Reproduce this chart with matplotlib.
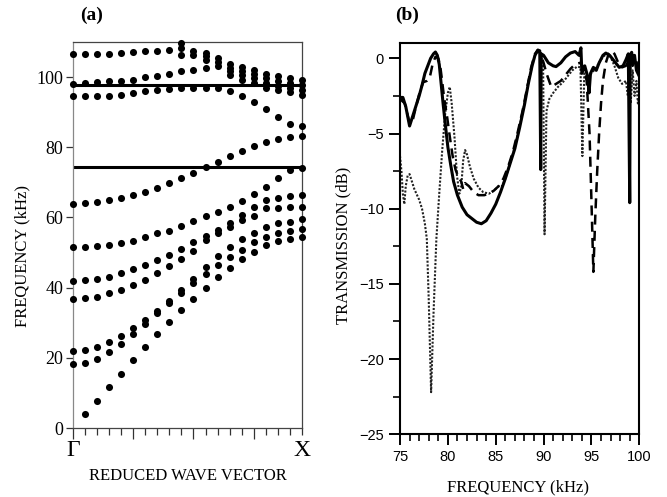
import numpy as np
import matplotlib
matplotlib.use('Agg')
import matplotlib.pyplot as plt
from matplotlib.ticker import MultipleLocator

nan = np.nan

# ---- panel (a): band structure, 20 k-points from Gamma to X ----
k_points = np.arange(20)
band_a = [106.6, 106.6, 106.6, 106.7, 106.9, 107.1, 107.3, 107.5, 107.7, 106.3,
          106.3, 104.9, 104.3, 101.6, 100.5, 99.6, 98.2, 97.6, 97.0, 96.3]
band_k = [nan] * 9 + [108.2, 107.3, 105.9, 105.4, 102.6, 101.7, 100.8, 99.6, 99.0, 98.3, 97.8]
band_l = [nan] * 9 + [109.8, nan, 106.8, nan, 103.7, 103.0, 102.1, 100.9, 100.3, 99.6, 99.2]
band_b = [98.1, 98.3, 98.5, 98.8, 99.0, 99.2, 99.9, 100.4, 100.8, 101.6,
          102.1, 102.7, 103.3, 100.5, 99.2, 98.3, 96.9, 96.3, 95.7, 94.8]
band_c = [94.5, 94.5, 94.6, 94.7, 95.0, 95.4, 95.9, 96.2, 96.6, 96.8,
          97.0, 96.9, 96.8, 96.0, 94.7, 93.0, 90.9, 88.5, 86.7, 86.0]
band_d = [63.8, 64.0, 64.4, 64.9, 65.5, 66.3, 67.3, 68.5, 69.9, 71.3,
          72.8, 74.4, 75.9, 77.5, 78.9, 80.4, 81.6, 82.5, 82.9, 83.1]
band_f = [51.5, 51.7, 51.9, 52.1, 52.8, 53.4, 54.3, 55.5, 56.2, 57.6,
          59.0, 60.5, 61.6, 63.1, 64.7, 66.6, 68.8, 71.3, 73.5, 74.0]
band_i = [42.0, 42.2, 42.5, 43.1, 44.1, 45.2, 46.5, 47.9, 49.4, 51.1,
          52.9, 54.8, 56.4, 58.3, 60.7, 63.0, 65.0, 65.6, 66.2, 66.4]
band_j = [36.8, 37.0, 37.3, 38.4, 39.2, 40.7, 42.3, 44.1, 46.1, 48.1,
          50.4, 53.5, 55.5, 57.4, 59.3, 60.5, 62.6, 62.8, 63.1, 63.1]
band_h = [22.0, 22.2, 23.2, 24.5, 26.2, 28.4, 30.8, 33.3, 36.2, 39.3,
          42.6, 46.0, 49.1, 51.7, 53.8, 55.7, 57.4, 58.5, 58.8, 59.5]
band_g = [18.2, 18.6, 19.8, 21.7, 24.0, 26.7, 29.5, 32.7, 35.7, 38.4,
          41.2, 43.8, 46.4, 48.8, 50.7, 52.9, 54.5, 55.7, 56.1, 56.7]
band_0 = [nan, 3.9, 7.7, 11.6, 15.5, 19.4, 23.1, 26.7, 30.3, 33.6,
          36.8, 40.0, 42.9, 45.5, 48.1, 50.1, 52.1, 53.4, 54.0, 54.3]
bands = [band_a, band_k, band_l, band_b, band_c, band_d, band_f,
         band_i, band_j, band_h, band_g, band_0]
gap_lines = [97.8, 74.5]

# ---- panel (b): transmission curves ----
solid_f = [75.0, 75.3, 75.6, 76.0, 76.3, 76.6, 77.0, 77.3, 77.6, 77.9, 78.2, 78.5, 78.7, 78.9,
           79.1, 79.3, 79.5, 79.7, 80.0, 80.3, 80.6, 81.0, 81.5, 82.0, 82.6, 83.0, 83.5, 84.0,
           84.5, 85.0, 85.5, 86.0, 86.5, 87.0, 87.5, 88.0, 88.4, 88.8, 89.1, 89.4, 89.6, 89.7,
           89.75, 90.0, 90.5, 91.0, 91.3, 91.8, 92.3, 92.8, 93.3, 93.7, 93.9, 94.0, 94.3, 94.6,
           94.75, 94.9, 95.2, 95.5, 95.8, 96.2, 96.5, 96.9, 97.4, 97.9, 98.3, 98.6, 98.85, 99.0,
           99.05, 99.2, 99.35, 99.5, 99.7, 100.0]
solid_db = [-2.6, -2.6, -3.2, -4.5, -3.9, -3.3, -2.5, -1.8, -1.0, -0.5, 0.0, 0.3, 0.42, 0.2,
            -0.4, -1.7, -3.0, -4.2, -5.9, -7.1, -8.2, -9.1, -9.9, -10.4, -10.7, -10.9, -11.0, -10.8,
            -10.3, -9.7, -8.9, -8.0, -7.0, -6.0, -4.6, -3.1, -1.7, -0.5, 0.2, 0.55, 0.5, -7.4,
            0.3, 0.2, -0.3, -0.5, -0.55, -0.3, 0.1, 0.35, 0.45, 0.2, 0.7, -1.0, -0.5, -1.2,
            -2.3, -1.0, -0.6, -0.8, -0.3, 0.2, 0.35, 0.2, -0.2, -0.6, -0.5, -0.1, 0.3, -9.6,
            0.2, 0.4, -0.3, 0.2, -0.8, -1.2]

dash_f = [75.0, 75.5, 76.0, 76.3, 76.6, 77.0, 77.4, 77.8, 78.1, 78.4, 78.7, 79.0, 79.2, 79.4,
          79.6, 79.9, 80.2, 80.5, 80.8, 81.1, 81.4, 81.6, 81.8, 82.2, 82.7, 83.2, 83.8, 84.3,
          84.8, 85.3, 85.8, 86.3, 86.8, 87.3, 87.8, 88.3, 88.7, 89.1, 89.4, 89.7, 90.0, 90.3,
          90.8, 91.3, 91.8, 92.3, 92.8, 93.3, 93.8, 94.2, 94.5, 94.8, 95.0, 95.2, 95.4, 95.6,
          95.8, 96.0, 96.2, 96.5, 96.8, 97.1, 97.4, 97.8, 98.2, 98.6, 99.0, 99.3, 99.6, 100.0]
dash_db = [-2.7, -3.0, -4.3, -4.2, -3.4, -2.4, -1.6, -1.5, -1.3, -0.4, 0.1, 0.0, -0.5, -1.5,
           -2.6, -3.8, -5.2, -6.5, -7.4, -7.9, -8.2, -8.7, -8.3, -8.5, -8.9, -9.1, -9.1, -9.0,
           -8.8, -8.5, -8.0, -7.2, -6.2, -4.9, -3.5, -1.9, -0.6, 0.3, 0.55, 0.3, -0.3, -1.0,
           -1.9, -1.7, -1.5, -1.1, -0.7, -0.4, -0.3, -0.6, -1.5, -5.0, -9.5, -14.2, -10.5, -7.5,
           -5.0, -3.0, -1.5, -0.3, 0.3, 0.5, 0.3, -0.3, -0.6, -0.5, 0.0, -0.5, 0.0, -0.9]

dot_f = [75.0, 75.15, 75.3, 75.45, 75.6, 75.8, 76.0, 76.5, 77.0, 77.3, 77.6, 77.8, 78.0, 78.25,
         78.5, 78.8, 79.1, 79.4, 79.7, 80.0, 80.2, 80.4, 80.7, 80.95, 81.2, 81.4, 81.6, 81.8,
         82.0, 82.3, 82.7, 83.2, 83.7, 84.3, 84.8, 85.3, 85.7, 86.0, 86.5, 87.0, 87.5, 88.0,
         88.4, 88.8, 89.1, 89.4, 89.7, 89.95, 90.1, 90.3, 90.6, 91.0, 91.5, 92.0, 92.5, 93.0,
         93.5, 93.85, 94.05, 94.25, 94.6, 95.0, 95.4, 95.8, 96.2, 96.6, 97.0, 97.4, 97.8, 98.2,
         98.6, 98.8, 98.9, 99.1, 99.3, 99.5, 99.7, 99.85, 100.0]
dot_db = [-6.5, -7.5, -9.0, -9.7, -8.5, -7.8, -7.7, -8.7, -9.4, -10.0, -11.0, -12.0, -16.0, -22.2,
          -17.0, -12.0, -9.0, -6.2, -3.8, -2.3, -1.9, -3.0, -5.3, -7.8, -9.0, -8.5, -6.8, -6.1,
          -6.4, -7.2, -8.0, -8.6, -8.9, -9.0, -8.8, -8.5, -8.5, -8.0, -7.0, -5.9, -4.5, -3.0,
          -1.6, -0.5, 0.2, 0.5, 0.3, -0.5, -11.7, -3.5, -2.7, -2.3, -1.9, -1.6, -1.2, -0.8,
          -0.55, -0.6, -6.5, -1.0, -1.3, -1.0, -0.7, -0.3, 0.1, 0.3, 0.1, -0.5, -1.3, -1.7,
          -1.5, -2.5, -0.5, -3.0, -0.8, -2.5, -1.5, -3.0, -2.5]

serif = 'Liberation Serif'
sans = 'Liberation Sans'

fig = plt.figure(figsize=(6.67, 4.97), dpi=100)
ax1 = fig.add_axes([0.1094, 0.1388, 0.3433, 0.7767])
ax2 = fig.add_axes([0.5997, 0.1262, 0.3588, 0.7867])

# panel (a)
for b in bands:
    ax1.scatter(k_points, b, s=26, color='black', linewidths=0, clip_on=False, zorder=3)
for g in gap_lines:
    ax1.axhline(g, color='black', lw=2.2, zorder=2)
ax1.set_xlim(0, 19)
ax1.set_ylim(0, 110)
ax1.set_yticks([0, 20, 40, 60, 80, 100])
ax1.set_xticks([0, 5, 10, 15])
ax1.set_xticklabels([])
ax1.xaxis.set_minor_locator(MultipleLocator(1))
ax1.tick_params(axis='x', which='major', direction='out', length=8, width=0.9, color='#333')
ax1.tick_params(axis='x', which='minor', direction='out', length=5, width=0.9, color='#333')
ax1.tick_params(axis='y', direction='out', length=5, width=0.9, color='#333', pad=2)
for lab in ax1.get_yticklabels():
    lab.set_fontfamily(serif)
    lab.set_fontsize(13)
for s in ax1.spines.values():
    s.set_color('#444')
    s.set_linewidth(0.9)
ax1.spines['left'].set_color('#888')
ax1.text(0, -0.03, 'Γ', transform=ax1.get_xaxis_transform(), ha='center', va='top',
         fontfamily=serif, fontsize=17)
ax1.text(19, -0.03, 'X', transform=ax1.get_xaxis_transform(), ha='center', va='top',
         fontfamily=serif, fontsize=17)
fig.text(0.2811, 1 - 476 / 497, 'REDUCED WAVE VECTOR', ha='center', va='center',
         fontfamily=serif, fontsize=12)
fig.text(22 / 667, 1 - 256 / 497, 'FREQUENCY (kHz)', rotation=90, ha='center', va='center',
         fontfamily=serif, fontsize=12)
fig.text(92 / 667, 1 - 15 / 497, '(a)', ha='center', va='center',
         fontfamily=serif, fontsize=14, fontweight='bold')

# panel (b)
ax2.plot(dot_f, dot_db, color='#222222', lw=1.5, linestyle=(0, (1, 0.8)))
ax2.plot(dash_f, dash_db, color='black', lw=1.8, linestyle=(0, (4, 2.5)))
ax2.plot(solid_f, solid_db, color='black', lw=2.2)
ax2.set_xlim(75, 100)
ax2.set_ylim(-25, 1)
ax2.set_xticks([75, 80, 85, 90, 95, 100])
ax2.set_yticks([0, -5, -10, -15, -20, -25])
ax2.xaxis.set_minor_locator(MultipleLocator(1))
ax2.yaxis.set_minor_locator(MultipleLocator(2.5))
ax2.tick_params(which='major', direction='out', length=8, width=1.4, labelsize=10.5)
ax2.tick_params(which='minor', direction='out', length=5, width=1.2)
for lab in ax2.get_xticklabels() + ax2.get_yticklabels():
    lab.set_fontfamily(sans)
for s in ax2.spines.values():
    s.set_linewidth(1.5)
fig.text(518 / 667, 1 - 487 / 497, 'FREQUENCY (kHz)', ha='center', va='center',
         fontfamily=serif, fontsize=12)
fig.text(343 / 667, 1 - 245 / 497, 'TRANSMISSION (dB)', rotation=90, ha='center', va='center',
         fontfamily=serif, fontsize=12)
fig.text(407 / 667, 1 - 15 / 497, '(b)', ha='center', va='center',
         fontfamily=serif, fontsize=14, fontweight='bold')

fig.savefig('out.png', dpi=100)
